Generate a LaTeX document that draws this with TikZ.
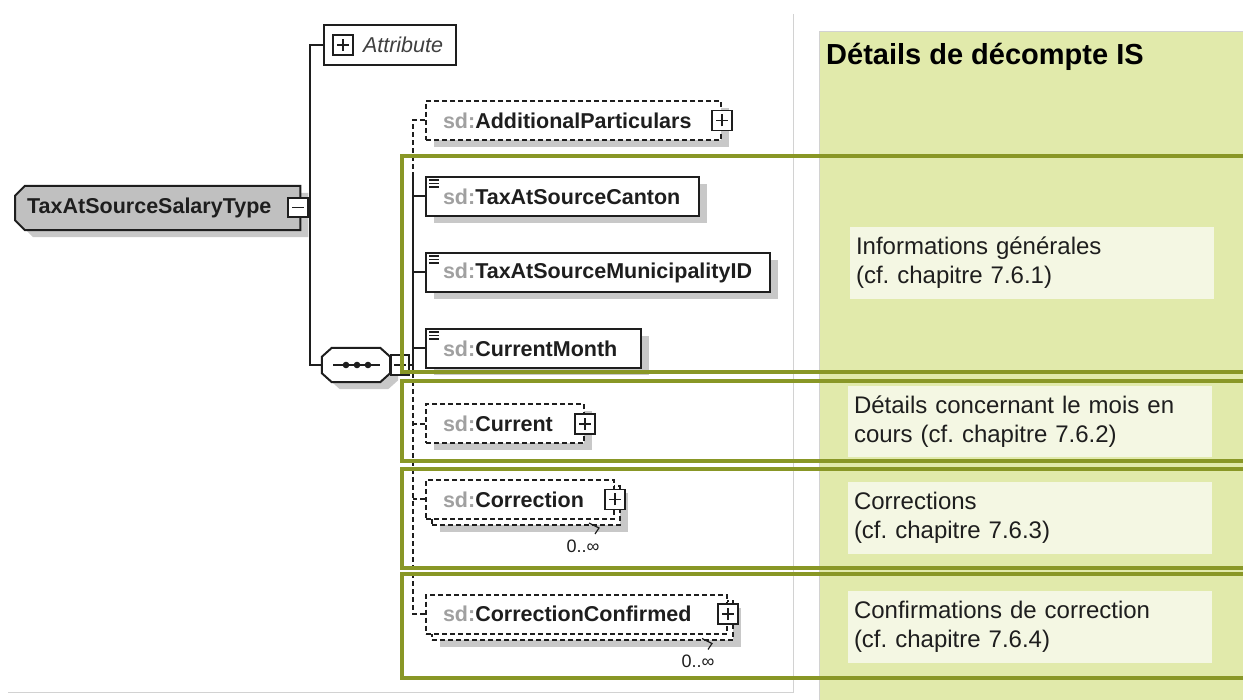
\documentclass[tikz,border=0pt]{standalone}
\usepackage{fontspec}
\setmainfont{Liberation Sans}
\usetikzlibrary{shadows,calc}

\definecolor{panelgreen}{HTML}{E1EAAB}
\definecolor{notefill}{HTML}{F4F7E3}
\definecolor{olive}{HTML}{899726}
\definecolor{rootgray}{HTML}{C0C0C0}
\definecolor{shade}{HTML}{C8C8C8}
\definecolor{prefixgray}{HTML}{A0A0A0}
\definecolor{ink}{HTML}{1E1E1E}
\definecolor{framegray}{HTML}{D2D2D2}

\pgfdeclarelayer{front}
\pgfsetlayers{main,front}

\newcommand{\sd}[1]{\textcolor{prefixgray}{sd:}#1}

\begin{document}
\frenchspacing
\begin{tikzpicture}[x=1pt,y=-1pt,
  wire/.style={draw=ink, line width=2pt},
  optwire/.style={wire, dash pattern=on 5pt off 3pt},
  dropshade/.style={copy shadow={shadow xshift=8pt, shadow yshift=-7pt, fill=shade, draw=none}},
  elem/.style={draw=ink, line width=2pt, fill=white, anchor=west,
    minimum height=39pt, inner xsep=17pt, inner ysep=0pt, align=left,
    font=\fontsize{21.5}{24}\selectfont\bfseries, text=ink, dropshade},
  optelem/.style={elem, dash pattern=on 5pt off 3pt},
  multielem/.style={draw=ink, line width=2pt, fill=white, anchor=west,
    minimum height=39pt, inner xsep=17pt, inner ysep=0pt, align=left,
    font=\fontsize{21.5}{24}\selectfont\bfseries, text=ink,
    copy shadow={shadow xshift=14pt, shadow yshift=-13pt, fill=shade, draw=none},
    copy shadow={shadow xshift=6pt, shadow yshift=-6pt, fill=white, draw=ink,
      line width=2pt, dash pattern=on 5pt off 3pt},
    dash pattern=on 5pt off 3pt},
  signbox/.style={draw=ink, fill=white, line width=1.8pt, minimum width=20pt,
    minimum height=20pt, inner sep=0pt},
  plusbox/.style={signbox, path picture={
    \draw[ink, line width=1.8pt]
      ([xshift=-6pt]path picture bounding box.center) -- ([xshift=6pt]path picture bounding box.center)
      ([yshift=-6pt]path picture bounding box.center) -- ([yshift=6pt]path picture bounding box.center);}},
  minusbox/.style={signbox, path picture={
    \draw[ink, line width=1.8pt]
      ([xshift=-6pt]path picture bounding box.center) -- ([xshift=6pt]path picture bounding box.center);}},
  mult/.style={font=\fontsize{18}{20}\selectfont, text=ink, inner sep=0pt},
  note/.style={fill=notefill, minimum height=72pt, inner xsep=6pt, inner ysep=0pt,
    text width=352pt, align=left, font=\fontsize{24}{29}\selectfont, text=ink},
  band/.style={draw=olive, line width=3.2pt},
  simpletype/.style={ink, line width=1.5pt},
  shadecopy/.style={fill=shade, draw=none, transform canvas={shift={(8pt,-7pt)}}},
  rootface/.style={fill=rootgray, draw=ink, line width=2pt},
  seqface/.style={fill=white, draw=ink, line width=2pt}
]
\useasboundingbox (0,0) rectangle (1243,700);

% right-hand panel and frame lines
\filldraw[fill=panelgreen, draw=framegray, line width=0.8pt] (819,31) rectangle (1245,702);
\draw[framegray, line width=1pt] (793,14) -- (793,692) -- (8,692);
\node[anchor=west, font=\fontsize{29}{32}\selectfont\bfseries, text=black, inner sep=0pt]
  (title) at (826,57) {Détails de décompte IS};

\node[note] (note1) at (1032,263) {Informations générales\\(cf. chapitre 7.6.1)};
\node[note, minimum height=71pt] (note2) at (1030,421.5) {Détails concernant le mois en\\cours (cf. chapitre 7.6.2)};
\node[note] (note3) at (1030,518) {Corrections\\(cf. chapitre 7.6.3)};
\node[note] (note4) at (1030,627) {Confirmations de correction\\(cf. chapitre 7.6.4)};

% complex type root: box with chamfered left corners, drawn with its shadow
\node[minimum width=285pt, minimum height=44pt, inner sep=0pt, anchor=west] (root) at (15,208) {};
\foreach \face in {shadecopy, rootface}{
  \filldraw[\face]
    ($(root.north west)+(10,0)$) -- (root.north east) -- (root.south east)
    -- ($(root.south west)+(10,0)$) -- ($(root.south west)+(0,-10)$)
    -- ($(root.north west)+(0,10)$) -- cycle;
}
\node[anchor=west, inner sep=0pt, font=\fontsize{21.5}{24}\selectfont\bfseries, text=ink]
  (rootname) at ($(root.west)+(12,0)$) {TaxAtSourceSalaryType};
\node[minusbox, minimum height=19pt] (rootminus) at (298,207.5) {};

% attribute group
\node[draw=ink, line width=2pt, fill=white, anchor=west, minimum width=132pt,
  minimum height=40pt, inner xsep=5pt, inner ysep=0pt, text width=122pt, align=left,
  font=\fontsize{21.5}{24}\selectfont\itshape, text=ink!85]
  (attr) at (323,45) {\hspace*{34pt}Attribute};
\node[plusbox] (attrplus) at (343,45) {};

% sequence compositor: octagon with shadow
\node[minimum width=68pt, minimum height=34pt, inner sep=0pt] (seq) at (356,365) {};
\foreach \face in {shadecopy, seqface}{
  \filldraw[\face]
    ($(seq.north west)+(10,0)$) -- ($(seq.north east)+(-10,0)$)
    -- ($(seq.north east)+(0,9)$) -- ($(seq.south east)+(0,-9)$)
    -- ($(seq.south east)+(-10,0)$) -- ($(seq.south west)+(10,0)$)
    -- ($(seq.south west)+(0,-9)$) -- ($(seq.north west)+(0,9)$) -- cycle;
}
\draw[ink, line width=1.6pt] ($(seq.center)+(-23,0)$) -- ($(seq.center)+(24,0)$);
\foreach \dx in {-10,1,12} \fill[ink] ($(seq.center)+(\dx,0)$) circle[radius=3.3pt];
\node[minusbox, minimum width=18pt, anchor=west] (seqminus) at (seq.east) {};

% child elements
\node[optelem, text width=261pt] (addp) at (425,120.5) {\sd{AdditionalParticulars}};
\node[plusbox] (addpplus) at (addp.east) {};
\node[elem, text width=239pt] (canton) at (425,196.5) {\sd{TaxAtSourceCanton}};
\node[elem, text width=310pt] (muni) at (425,272.5) {\sd{TaxAtSourceMunicipalityID}};
\node[elem, text width=181pt] (month) at (425,348.5) {\sd{CurrentMonth}};
\node[optelem, text width=124pt] (current) at (425,424) {\sd{Current}};
\node[plusbox] (currentplus) at (current.east) {};
\node[multielem, text width=154pt] (corr) at (425,499.5) {\sd{Correction}};
\node[plusbox] (corrplus) at (corr.east) {};
\node[multielem, text width=267pt] (conf) at (425,614) {\sd{CorrectionConfirmed}};
\node[plusbox] (confplus) at (conf.east) {};

% simple-type markers
\foreach \n in {canton,muni,month}{
  \foreach \dy in {4,7.5,11}
    \draw[simpletype] ($(\n.north west)+(4,\dy)$) -- ++(10,0);
}

% occurrence ranges
\node[mult] (corrmult) at (583,546) {0..∞};
\node[mult] (confmult) at (698,661) {0..∞};
\draw[ink, line width=1.2pt] ($(corr.south east)+(-26,3)$) -- ++(10,5) -- ++(-4,6);
\draw[ink, line width=1.2pt] ($(conf.south east)+(-26,4)$) -- ++(10,5) -- ++(-4,6);

% connectors
\coordinate (trunk) at (310,0);
\coordinate (bus) at (413,0);
\draw[wire] (rootminus.east) -- (rootminus.east -| trunk);
\draw[wire] (attr.west) -| (trunk |- seq.west) -- (seq.west);
\draw[wire] (seqminus.east) -- (seqminus.east -| bus);
\draw[optwire] (addp.west) -- (addp.west -| bus) -- (bus |- canton.north);
\draw[wire] (bus |- canton.north) -- (bus |- seqminus.east);
\draw[wire] (canton.west) -- (canton.west -| bus);
\draw[wire] (muni.west) -- (muni.west -| bus);
\draw[wire] (month.west) -- (month.west -| bus);
\draw[optwire] (bus |- seqminus.east) -- (bus |- conf.west) -- (conf.west);
\draw[optwire] (current.west) -- (current.west -| bus);
\draw[optwire] (corr.west) -- (corr.west -| bus);

% section bands, open past the right border
\begin{pgfonlayer}{front}
\draw[band] (402,156) rectangle (1252,372);
\draw[band] (402,381) rectangle (1252,461);
\draw[band] (402,469) rectangle (1252,568);
\draw[band] (402,574) rectangle (1252,678);
\end{pgfonlayer}
\end{tikzpicture}
\end{document}
